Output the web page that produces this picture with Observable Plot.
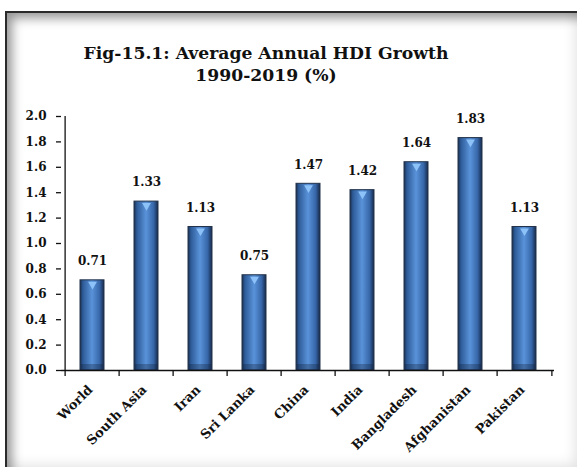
<!DOCTYPE html>
<html>
<head>
<meta charset="utf-8">
<script src="https://cdn.jsdelivr.net/npm/d3@7"></script>
<script src="https://cdn.jsdelivr.net/npm/@observablehq/plot@0.6"></script>
<style>
  html, body { margin: 0; padding: 0; background: #fff; overflow: hidden; }
  #wrap { position: relative; width: 577px; height: 467px; overflow: hidden; background: #fff; }
  #frame {
    position: absolute; left: 5px; top: 11px; width: 576px; height: 460px;
    box-sizing: border-box;
    border-left: 2px solid #2a2a2a; border-top: 2px solid #2a2a2a;
    box-shadow: inset 9px 9px 11px -4px rgba(0,0,0,0.42), inset -12px -12px 14px -7px rgba(0,0,0,0.13);
    background: #fff;
  }
  #title {
    position: absolute; left: 0; top: 42px; width: 532px; text-align: center;
    font-family: "DejaVu Serif", serif; font-weight: bold; font-size: 17.2px; line-height: 22px; color: #111;
  }
  #chart { position: absolute; left: 0; top: 100px; }
</style>
</head>
<body>
<div id="wrap">
  <div id="frame"></div>
  <div id="title">Fig-15.1: Average Annual HDI Growth<br>1990-2019 (%)</div>
  <div id="chart"></div>
</div>
<script>
const categories = ["World", "South Asia", "Iran", "Sri Lanka", "China", "India", "Bangladesh", "Afghanistan", "Pakistan"];
const values = [0.71, 1.33, 1.13, 0.75, 1.47, 1.42, 1.64, 1.83, 1.13];
const yTicks = [0, 0.2, 0.4, 0.6, 0.8, 1.0, 1.2, 1.4, 1.6, 1.8, 2.0];

const data = categories.map((c, i) => ({category: c, value: values[i]}));

const W = 577, H = 367, ML = 61, MR = 23, MT = 16, MB = 97;
const bw = (W - ML - MR) / categories.length;

function defsMark() {
  const defs = d3.create("svg:defs");
  const g = defs.append("linearGradient").attr("id", "barGrad")
    .attr("x1", 0).attr("x2", 1).attr("y1", 0).attr("y2", 0);
  [[0, "#1b2f4f"], [0.12, "#2d5b98"], [0.5, "#5a93da"], [0.82, "#3666a8"], [1, "#17294a"]]
    .forEach(([o, c]) => g.append("stop").attr("offset", o).attr("stop-color", c));
  const f = defs.append("filter").attr("id", "shadow").attr("x", "-30%").attr("y", "-10%").attr("width", "160%").attr("height", "120%");
  f.append("feDropShadow").attr("dx", 2).attr("dy", 1).attr("stdDeviation", 1.5)
    .attr("flood-color", "#000").attr("flood-opacity", 0.45);
  return defs.node();
}

const plot = Plot.plot({
  width: W, height: H,
  marginLeft: ML, marginRight: MR, marginTop: MT, marginBottom: MB,
  style: {fontFamily: "DejaVu Serif, serif", fontWeight: "bold", fontSize: "12px", color: "#111", background: "transparent"},
  x: {type: "band", domain: categories, padding: 0},
  y: {domain: [0, 2]},
  marks: [
    defsMark,
    Plot.barY(data, {x: "category", y: "value", insetLeft: 15, insetRight: 15,
      fill: "url(#barGrad)", stroke: "#22324a", strokeWidth: 1, ariaLabel: "bars"}),
    Plot.barY(data, {x: "category", y1: 0, y2: 0, insetTop: -6, insetLeft: 16, insetRight: 16,
      fill: "#0d1a30", fillOpacity: 0.3, ariaLabel: "bar-bottom"}),
    Plot.dot(data, {x: "category", y: "value", symbol: "triangle2", r: 4.2, rotate: 180, dy: 4,
      fill: "#8cc2f8", stroke: null}),
    Plot.text(data, {x: "category", y: "value", text: d => d.value.toFixed(2), dy: -19,
      fontWeight: "bold", fontSize: 12, fill: "#111"}),
    Plot.ruleY([0], {stroke: "#111", strokeWidth: 1.3}),
    Plot.ruleX(categories.slice(0, 1), {x: d => d, y1: 0, y2: 2, dx: -bw / 2, stroke: "#111", strokeWidth: 1.3}),
    Plot.ruleX(categories, {x: d => d, y1: 0, y2: 0, insetBottom: -6, dx: -bw / 2, stroke: "#111", strokeWidth: 1.3}),
    Plot.ruleX(categories.slice(-1), {x: d => d, y1: 0, y2: 0, insetBottom: -6, dx: bw / 2, stroke: "#111", strokeWidth: 1.3}),
    Plot.axisY({ticks: yTicks, tickFormat: d3.format(".1f"), tickSize: 5, tickPadding: 10, label: null,
      fontWeight: "bold", fontSize: 12, stroke: "#111", strokeWidth: 1.3}),
    Plot.axisX({tickSize: 0, tickRotate: -45, tickPadding: 17, dx: -2, label: null, fontWeight: "bold", fontSize: 13})
  ]
});

d3.select(plot).selectAll("g[aria-label=bars]").attr("filter", "url(#shadow)");
document.getElementById("chart").appendChild(plot);
</script>
</body>
</html>
